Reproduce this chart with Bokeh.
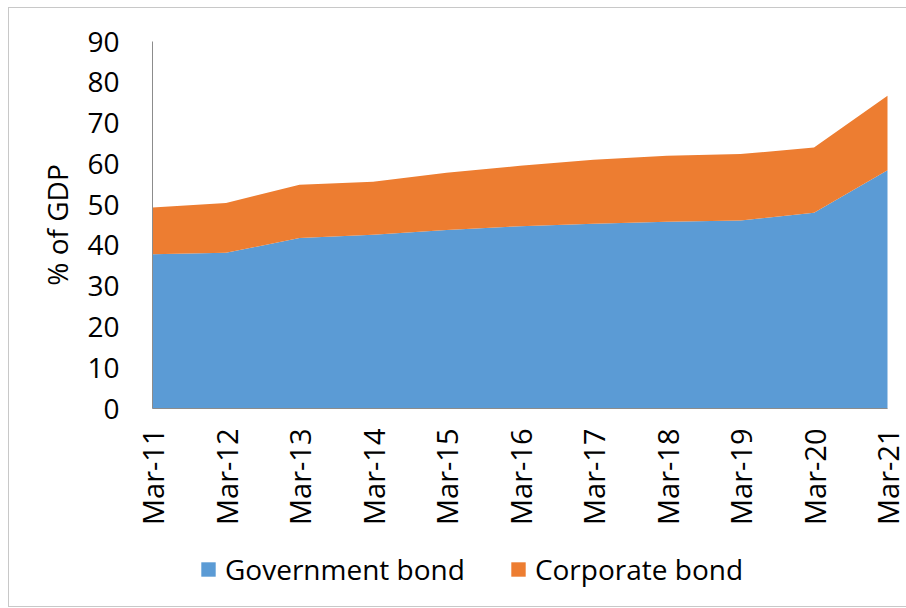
from bokeh.plotting import figure
from bokeh.models import Range1d, Legend, LegendItem
from bokeh.embed import file_html
from bokeh.resources import INLINE
from bokeh.core.properties import value
import math

categories = ["Mar-11", "Mar-12", "Mar-13", "Mar-14", "Mar-15", "Mar-16",
              "Mar-17", "Mar-18", "Mar-19", "Mar-20", "Mar-21"]
government_bond = [37.8, 38.2, 41.8, 42.6, 43.8, 44.7, 45.3, 45.8, 46.1, 48.0, 58.4]
corporate_bond = [11.5, 12.2, 13.1, 13.0, 14.0, 14.8, 15.7, 16.2, 16.3, 16.0, 18.3]
y_ticks = [0, 10, 20, 30, 40, 50, 60, 70, 80, 90]
y_tick_labels = [str(t) for t in y_ticks]
y_title = "% of GDP"

FONT = "Open Sans"
FS = "28px"

# layout constants (pixels)
Y_MAX = 90
PX_PER_Y = 367 / Y_MAX
TOP_PAD_PX = 15
FRAME_H = 565 + TOP_PAD_PX
Y_TOP = Y_MAX + TOP_PAD_PX / PX_PER_Y
Y_MIN = Y_TOP - FRAME_H / PX_PER_Y
PX_PER_X = 73.5
LEFT_PAD_PX = 131
RIGHT_PAD_PX = 18
FRAME_W = 735 + LEFT_PAD_PX + RIGHT_PAD_PX
X_MIN = -LEFT_PAD_PX / PX_PER_X
X_MAX = (len(categories) - 1) + RIGHT_PAD_PX / PX_PER_X
XLABEL_GAP = 20 / PX_PER_Y
YLABEL_X = -33 / PX_PER_X
YTITLE_X = -96 / PX_PER_X

xs = list(range(len(categories)))
data = {"x": xs, "gov": government_bond, "corp": corporate_bond}

p = figure(frame_width=FRAME_W, frame_height=FRAME_H,
           x_range=Range1d(X_MIN, X_MAX), y_range=Range1d(Y_MIN, Y_TOP),
           output_backend="svg", toolbar_location=None,
           min_border_left=12, min_border_right=2, min_border_top=33 - TOP_PAD_PX,
           min_border_bottom=0)
p.styles = {"border": "1px solid #c8c8c8", "margin-left": "8px", "margin-top": "7px"}

rs = p.varea_stack(stackers=["gov", "corp"], x="x", color=["#5B9BD5", "#ED7D31"],
                   source=data)

# axis lines
p.line(x=[xs[0], xs[-1]], y=[0, 0], line_color="#8c8c8c", line_width=1)
p.line(x=[xs[0], xs[0]], y=[y_ticks[0], y_ticks[-1]], line_color="#8c8c8c", line_width=1)

# category labels
p.text(x=xs, y=[-XLABEL_GAP] * len(xs), text=categories, angle=math.pi / 2,
       text_align="right", text_baseline="middle", text_font=value(FONT),
       text_font_size="29px", text_color="black")

# value labels
p.text(x=[YLABEL_X] * len(y_ticks), y=y_ticks, text=y_tick_labels,
       text_align="right", text_baseline="middle", text_font=value(FONT),
       text_font_size=FS, text_color="black")

# value axis title
p.text(x=[YTITLE_X], y=[Y_MAX / 2], text=[y_title], angle=math.pi / 2,
       text_align="center", text_baseline="middle", text_font=value(FONT),
       text_font_size=FS, text_color="black")

p.outline_line_color = None
p.xgrid.visible = False
p.ygrid.visible = False
p.xaxis.visible = False
p.yaxis.visible = False

legend = Legend(items=[LegendItem(label="Government bond", renderers=[rs[0]]),
                       LegendItem(label="Corporate bond", renderers=[rs[1]])],
                orientation="horizontal", location=(LEFT_PAD_PX + 47, 18),
                label_text_font=FONT, label_text_font_size=FS,
                label_text_color="black", glyph_width=18, glyph_height=18,
                spacing=44, padding=0, margin=0, border_line_color=None,
                background_fill_alpha=0, label_standoff=8)
p.add_layout(legend, "center")

open("out.html", "w").write(file_html(p, INLINE))
